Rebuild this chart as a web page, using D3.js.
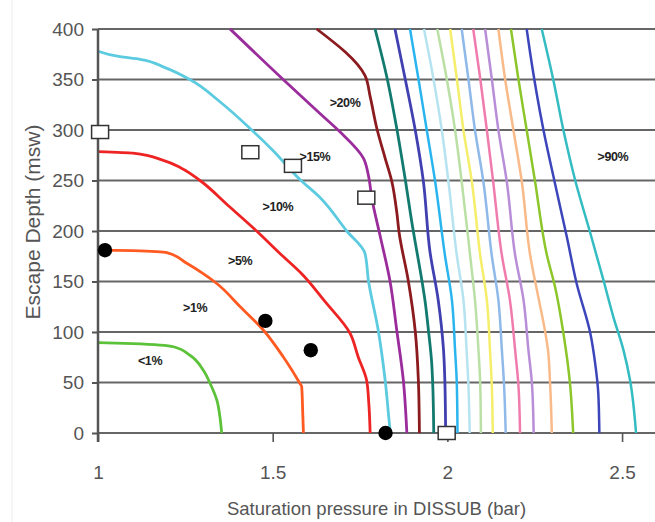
<!DOCTYPE html>
<html>
<head>
<meta charset="utf-8">
<script src="https://cdn.jsdelivr.net/npm/d3@7"></script>
<style>
  html, body { margin: 0; padding: 0; background: #fff; }
  svg { display: block; }
  text { font-family: "Liberation Sans", Arial, sans-serif; }
</style>
</head>
<body>
<svg id="chart" width="655" height="522"></svg>
<script>
// ---------- DATA ----------
const xTicks = [1, 1.5, 2, 2.5];
const xTickLabels = ["1", "1.5", "2", "2.5"];
const yTicks = [0, 50, 100, 150, 200, 250, 300, 350, 400];
const xTitle = "Saturation pressure in DISSUB (bar)";
const yTitle = "Escape Depth (msw)";

// iso-probability lines: [saturation pressure (bar), escape depth (msw)]
const lineLt1 = [[1.0,89.4],[1.1,88.5],[1.216,85.4],[1.263,77],[1.301,62.4],[1.321,49],[1.34,32.7],[1.349,16],[1.354,0]];
const line1 = [[1.0,181],[1.1,180.5],[1.197,178.5],[1.254,168],[1.30,158],[1.34,148],[1.407,125],[1.473,102],[1.53,75.5],[1.578,49],[1.583,46],[1.586,20],[1.588,0]];
const line5 = [[1.0,278.5],[1.1,277],[1.187,270],[1.24,262],[1.292,250],[1.37,226],[1.454,200],[1.52,178],[1.585,157],[1.65,130],[1.721,99],[1.745,75],[1.769,52],[1.775,30],[1.779,0]];
const line10 = [[1.0,378],[1.063,372.6],[1.12,370],[1.19,362],[1.263,350],[1.349,328],[1.44,300],[1.50,280],[1.578,251],[1.636,233],[1.712,200],[1.764,178],[1.774,151],[1.802,102],[1.822,52],[1.836,3],[1.837,0]];
const line15 = [[1.378,400],[1.53,350],[1.636,316],[1.693,298],[1.76,272],[1.774,255],[1.784,232],[1.807,196],[1.836,150],[1.855,102],[1.874,52],[1.884,0]];
const line20 = [[1.626,400],[1.764,354],[1.779,333],[1.798,301.7],[1.822,272],[1.841,249],[1.855,219],[1.862,198],[1.888,151],[1.908,101],[1.917,52],[1.920,0]];
const line25 = [[1.793,400],[1.827,352],[1.855,301.7],[1.879,252],[1.900,205],[1.912,181],[1.927,151],[1.936,131],[1.946,101],[1.955,70],[1.958,49],[1.961,0]];
const line30 = [[1.850,400],[1.879,351],[1.908,300],[1.931,250],[1.950,180],[1.974,131],[1.989,82],[1.993,49],[1.995,0]];
const line35 = [[1.893,400],[1.917,351],[1.941,300],[1.965,249],[1.993,176],[2.013,131.6],[2.022,82],[2.027,49],[2.029,0]];
const line40 = [[1.933,400],[1.960,351],[1.984,300],[2.003,249],[2.027,176],[2.046,131.6],[2.055,82],[2.060,49],[2.064,0]];
const line45 = [[1.971,400],[1.998,351],[2.022,300],[2.041,249],[2.065,176],[2.079,131.6],[2.089,82],[2.094,49],[2.096,0]];
const line50 = [[2.008,400],[2.027,351],[2.046,300],[2.070,249],[2.094,176],[2.113,131.6],[2.122,82],[2.127,49],[2.130,0]];
const line55 = [[2.041,400],[2.060,351],[2.079,300],[2.103,249],[2.127,176],[2.146,131.6],[2.156,82],[2.162,49],[2.167,0]];
const line60 = [[2.074,400],[2.094,351],[2.113,300],[2.131,249],[2.156,176],[2.179,131.6],[2.194,82],[2.203,49],[2.208,0]];
const line65 = [[2.108,400],[2.127,351],[2.146,300],[2.170,249],[2.194,176],[2.218,131.6],[2.232,82],[2.242,49],[2.247,0]];
const line70 = [[2.146,400],[2.165,351],[2.189,300],[2.213,249],[2.237,176],[2.262,131.6],[2.280,100],[2.288,82],[2.294,49],[2.299,0]];
const line75 = [[2.182,400],[2.203,351],[2.227,300],[2.251,249],[2.285,176],[2.308,145],[2.332,99],[2.351,49],[2.360,0]];
const line80 = [[2.227,400],[2.237,376],[2.275,300],[2.308,247],[2.342,194],[2.370,148],[2.409,99],[2.423,69],[2.432,39],[2.435,0]];
const line90 = [[2.270,400],[2.303,350],[2.332,300],[2.366,250],[2.409,198],[2.447,151],[2.475,115],[2.504,82],[2.523,52],[2.540,0]];

const isoLines = [lineLt1, line1, line5, line10, line15, line20, line25, line30, line35, line40,
                  line45, line50, line55, line60, line65, line70, line75, line80, line90];
const lineColors = ["#5cc23a", "#ff5a22", "#ee2424", "#5ccbe0", "#9a2c9c", "#8b1b1f", "#137a70",
                    "#4040b0", "#2bb5ef", "#b6e3f0", "#bbe0a6", "#f5ee6a", "#8fb9e8", "#f07cae",
                    "#b98ed8", "#f9ba8a", "#8cc62a", "#3c46ba", "#33bcc2"];

// observed cases
const squarePoints = [[1.006,298],[1.436,278],[1.558,264.5],[1.768,233],[1.998,0]];
const dotPoints = [[1.02,181],[1.479,111],[1.609,82],[1.823,0]];

// region labels and their anchor (bar, msw)
const regionLabels = ["<1%", ">1%", ">5%", ">10%", ">15%", ">20%", ">90%"];
const regionLabelAnchors = [[1.149,72],[1.278,124],[1.407,171],[1.515,224],[1.621,274],[1.707,327],[2.474,274]];

// ---------- DRAW ----------
const svg = d3.select("#chart");
const x = d3.scaleLinear().domain([1, 2.6]).range([98, 657]);
const y = d3.scaleLinear().domain([0, 400]).range([433, 29]);

// faint page border
svg.append("line").attr("x1", 12).attr("x2", 12).attr("y1", 0).attr("y2", 522)
  .attr("stroke", "#ececec").attr("stroke-width", 1);

// horizontal gridlines
svg.append("g").selectAll("line").data(yTicks).join("line")
  .attr("x1", x(1)).attr("x2", 655)
  .attr("y1", d => y(d)).attr("y2", d => y(d))
  .attr("stroke", "#666").attr("stroke-width", 2.2);

// iso lines
const lineGen = d3.line().x(d => x(d[0])).y(d => y(d[1])).curve(d3.curveMonotoneY);
svg.append("g").selectAll("path").data(isoLines).join("path")
  .attr("d", d => lineGen(d))
  .attr("fill", "none")
  .attr("stroke", (d, i) => lineColors[i])
  .attr("stroke-width", (d, i) => i < 8 ? 2.8 : 2.5)
  .attr("stroke-linejoin", "round");

// y axis
const yAxis = d3.axisLeft(y).tickValues(yTicks).tickSize(6).tickPadding(8);
const gy = svg.append("g").attr("transform", `translate(${x(1)},0)`).call(yAxis);
gy.select(".domain").remove();
gy.selectAll(".tick line").attr("stroke", "#555").attr("stroke-width", 2);
gy.selectAll(".tick text").attr("font-size", 19).attr("fill", "#555")
  .attr("font-family", "'Liberation Sans', Arial, sans-serif");
svg.append("line").attr("x1", x(1)).attr("x2", x(1)).attr("y1", y(400)).attr("y2", y(0) + 9)
  .attr("stroke", "#555").attr("stroke-width", 2.5);

// x axis
const xAxis = d3.axisBottom(x).tickValues(xTicks).tickFormat((d, i) => xTickLabels[i]).tickSize(9).tickPadding(24);
const gx = svg.append("g").attr("transform", `translate(0,${y(0)})`).call(xAxis);
gx.select(".domain").remove();
gx.selectAll(".tick line").attr("stroke", "#555").attr("stroke-width", 1.6);
gx.selectAll(".tick text").attr("font-size", 19).attr("fill", "#555")
  .attr("font-family", "'Liberation Sans', Arial, sans-serif");

// axis titles
svg.append("text").attr("x", (x(1) + 655) / 2).attr("y", 515)
  .attr("text-anchor", "middle").attr("font-size", 18.5).attr("fill", "#555").text(xTitle);
svg.append("text").attr("transform", "translate(40,222) rotate(-90)")
  .attr("text-anchor", "middle").attr("font-size", 21).attr("fill", "#555").text(yTitle);

// markers
svg.append("g").selectAll("circle").data(dotPoints).join("circle")
  .attr("cx", d => x(d[0])).attr("cy", d => y(d[1])).attr("r", 7.2).attr("fill", "#000");
svg.append("g").selectAll("rect").data(squarePoints).join("rect")
  .attr("x", d => x(d[0]) - 8.5).attr("y", d => y(d[1]) - 6.5)
  .attr("width", 17).attr("height", 13)
  .attr("fill", "#fff").attr("stroke", "#333").attr("stroke-width", 1.5);

// region labels
svg.append("g").selectAll("text").data(regionLabels).join("text")
  .attr("x", (d, i) => x(regionLabelAnchors[i][0]))
  .attr("y", (d, i) => y(regionLabelAnchors[i][1]))
  .attr("dy", "0.35em")
  .attr("text-anchor", "middle")
  .attr("font-size", 12.5).attr("font-weight", "bold").attr("fill", "#222")
  .attr("letter-spacing", "-0.4")
  .text(d => d);
</script>
</body>
</html>
